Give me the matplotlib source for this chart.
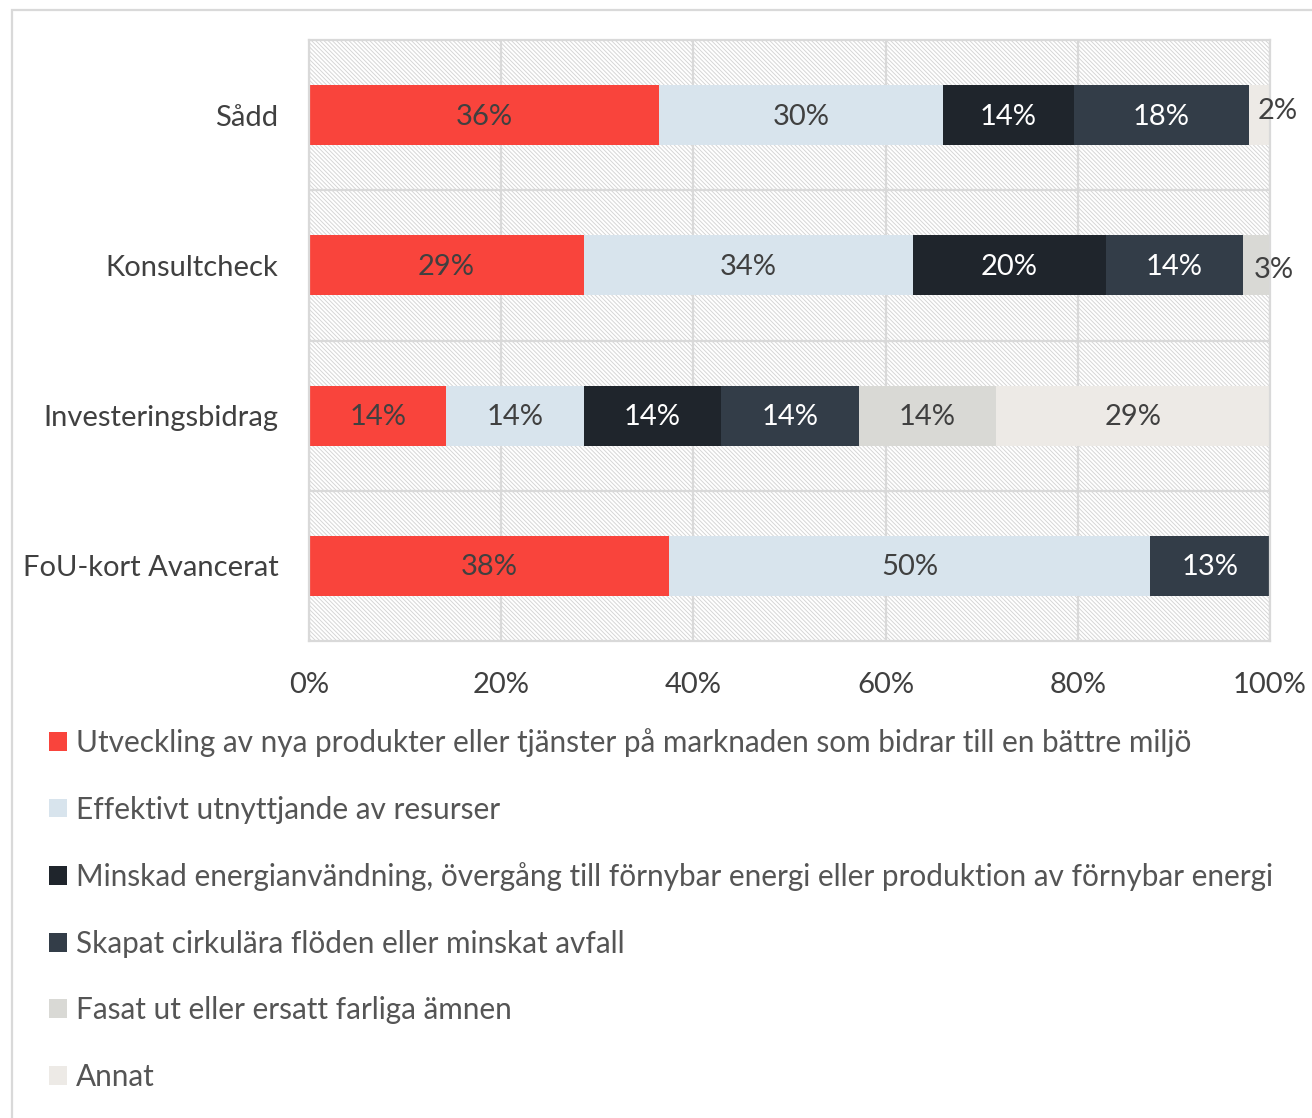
import matplotlib.pyplot as plt
from matplotlib.patches import Rectangle

plt.rcParams['font.family'] = ['Lato', 'DejaVu Sans']
plt.rcParams['hatch.linewidth'] = 0.7

categories = ['Sådd', 'Konsultcheck', 'Investeringsbidrag', 'FoU-kort Avancerat']
series = [
    'Utveckling av nya produkter eller tjänster på marknaden som bidrar till en bättre miljö',
    'Effektivt utnyttjande av resurser',
    'Minskad energianvändning, övergång till förnybar energi eller produktion av förnybar energi',
    'Skapat cirkulära flöden eller minskat avfall',
    'Fasat ut eller ersatt farliga ämnen',
    'Annat',
]
# andelar i procent per kategori (rad = serie)
values = [
    [36.4, 28.6, 14.3, 37.5],
    [29.6, 34.3, 14.3, 50.0],
    [13.6, 20.0, 14.3, 0.0],
    [18.2, 14.3, 14.3, 12.5],
    [0.0, 2.9, 14.3, 0.0],
    [2.3, 0.0, 28.6, 0.0],
]
colors = ['#F9443C', '#D8E4ED', '#1F252C', '#333D48', '#D9D9D5', '#EDEAE6']
text_colors = ['#404040', '#404040', 'white', 'white', '#404040', '#404040']
xticks = [0, 20, 40, 60, 80, 100]
fs = 21

fig = plt.figure(figsize=(13.12, 11.18), dpi=100)
ax = fig.add_axes([309 / 1312, 1 - 641 / 1118, 961 / 1312, 601 / 1118])

ypos = list(range(len(categories)))
ax.axvspan(0, 100, facecolor='white', edgecolor='#D6D6D6', hatch='\\' * 8, linewidth=0, zorder=0.2)

left = [0] * len(categories)
for i, s in enumerate(series):
    ax.barh(ypos, values[i], left=left, height=0.4, color=colors[i], label=s, zorder=2)
    for j, v in enumerate(values[i]):
        if v <= 0:
            continue
        txt = f'{int(v + 0.5)}%'
        if v < 5:
            ax.text(left[j] + v / 2 + 1.8, j - 0.03 if j == 0 else j + 0.03, txt, ha='center',
                    va='center', fontsize=fs, color='#404040', zorder=3, clip_on=False)
        else:
            ax.text(left[j] + v / 2, j + 0.01, txt, ha='center', va='center',
                    fontsize=fs, color=text_colors[i], zorder=3)
        left[j] += v

ax.set_xlim(0, 100)
ax.set_ylim(3.5, -0.5)
ax.set_xticks(xticks)
ax.set_xticklabels([f'{t}%' for t in xticks])
ax.set_yticks(ypos)
ax.set_yticklabels(categories)
ax.set_yticks([0.5, 1.5, 2.5], minor=True)
ax.tick_params(axis='both', which='both', length=0, labelsize=fs, labelcolor='#404040')
ax.tick_params(axis='x', pad=22.5)
ax.tick_params(axis='y', pad=22)
ax.grid(axis='x', color='#D9D9D9', linewidth=1.6, zorder=0.5)
ax.grid(axis='y', which='minor', color='#D9D9D9', linewidth=1.6, zorder=0.5)
ax.set_axisbelow(True)
for sp in ax.spines.values():
    sp.set_color('#D9D9D9')
    sp.set_linewidth(1.6)

handles, labels = ax.get_legend_handles_labels()
fig.legend(handles, labels, loc='upper left', bbox_to_anchor=(37 / 1312, 1 - 716 / 1118),
           frameon=False, fontsize=21.4, labelcolor='#555555', handlelength=0.6, handleheight=0.6,
           handletextpad=0.3, labelspacing=1.3, borderaxespad=0)

# ram runt diagrammet
fig.patches.append(Rectangle((12 / 1312, -0.1), 1.2, 1.1 - 10 / 1118, transform=fig.transFigure,
                             fill=False, edgecolor='#D9D9D9', linewidth=1.6))

fig.savefig('out.png', dpi=100)
